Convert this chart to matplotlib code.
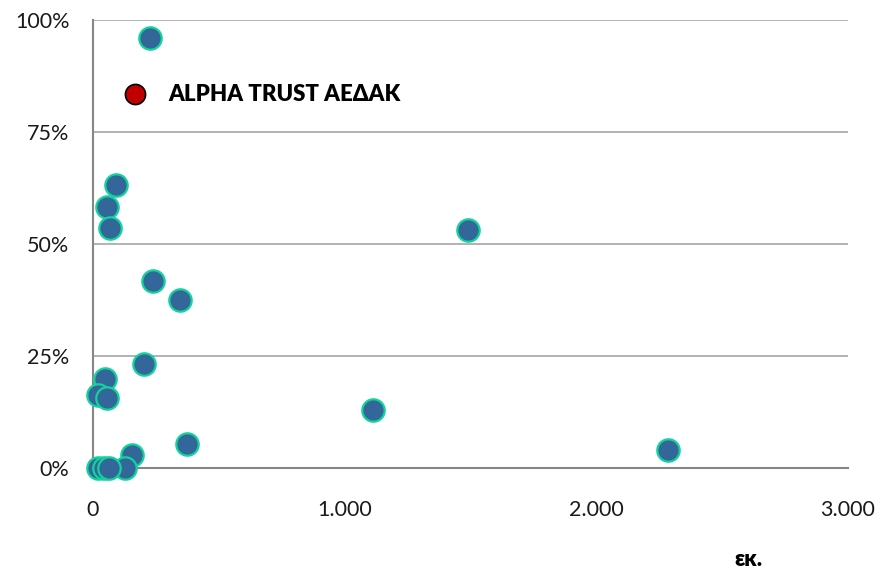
import matplotlib.pyplot as plt
from matplotlib.ticker import FuncFormatter
from matplotlib.lines import Line2D

# data (x in thousands-ish units, y as share)
x_vals = [226, 91, 56, 67, 1492, 238, 345, 202, 48, 20, 56, 1111, 373, 2286, 155, 127, 20, 44, 63]
y_vals = [0.96, 0.632, 0.582, 0.536, 0.532, 0.418, 0.376, 0.232, 0.199, 0.162, 0.157, 0.129, 0.053, 0.041, 0.029, 0.0, 0.0, 0.0, 0.0]
legend_label = "ALPHA TRUST ΑΕΔΑΚ"
x_ticks = [0, 1000, 2000, 3000]
y_ticks = [0, 0.25, 0.5, 0.75, 1.0]

plt.rcParams['font.family'] = ['Lato', 'DejaVu Sans']

fig = plt.figure(figsize=(8.82, 5.87), dpi=100)
ax = fig.add_axes([0.1054, 0.2027, 0.856, 0.7632])

ax.scatter(x_vals, y_vals, s=260, color='#336699', edgecolors='#12d39c', linewidths=1.6, zorder=3, clip_on=False)

ax.set_xlim(0, 3000)
ax.set_ylim(0, 1.0)
ax.set_xticks(x_ticks)
ax.set_yticks(y_ticks)
ax.xaxis.set_major_formatter(FuncFormatter(lambda v, p: f"{int(v):,}".replace(",", ".")))
ax.yaxis.set_major_formatter(FuncFormatter(lambda v, p: f"{v*100:.0f}%"))
ax.tick_params(axis='x', length=0, pad=23, labelsize=15.5, colors='#1a1a1a')
ax.tick_params(axis='y', length=0, pad=17, labelsize=15.5, colors='#1a1a1a')

ax.grid(axis='y', color='#a6a6a6', linewidth=1.2)
ax.set_axisbelow(True)
for s in ['top', 'right']:
    ax.spines[s].set_visible(False)
ax.spines['left'].set_color('#868686')
ax.spines['bottom'].set_color('#868686')
ax.spines['left'].set_linewidth(1.5)
ax.spines['bottom'].set_linewidth(1.5)

handle = Line2D([], [], marker='o', linestyle='', markersize=14.5, markerfacecolor='#c00000',
                markeredgecolor='black', markeredgewidth=1.2)
ax.legend([handle], [legend_label], loc='center left', bbox_to_anchor=(0.0, 0.833),
          frameon=False, prop={'weight': 'heavy', 'size': 16}, handletextpad=0.5)

fig.text(748 / 882, 1 - 559 / 587, "εκ.", ha='center', va='center', fontsize=16, fontweight='heavy')

fig.savefig("out.png", dpi=100)
